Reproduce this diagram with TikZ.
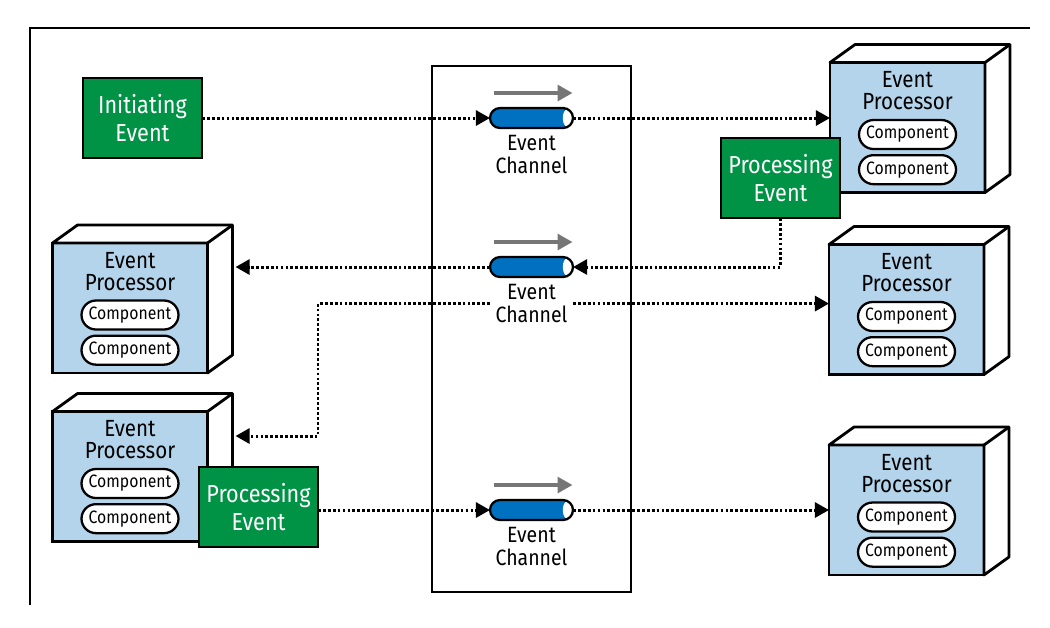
\documentclass[tikz,border=0pt]{standalone}
\usepackage{fontspec}
\setmainfont{Fira Sans}[FakeStretch=0.88]
\usetikzlibrary{shapes.misc, positioning}
\usetikzlibrary{arrows.meta}
\tikzset{>={Triangle[width=8.5pt,length=8pt]}}
\definecolor{eventgreen}{RGB}{0,146,69}
\definecolor{procblue}{RGB}{179,212,234}
\definecolor{chanblue}{RGB}{0,112,192}
\definecolor{chanarrow}{RGB}{118,118,118}

\begin{document}
\begin{tikzpicture}[x=0.02cm, y=-0.02cm, event/.style={rectangle, draw=black, fill=eventgreen, line width=1.4pt, minimum width=2.38cm, minimum height=1.6cm, text=white, font=\fontsize{14}{15.5}\selectfont, align=center, inner sep=0pt, outer sep=0pt}, processor/.style={rectangle, draw=black, fill=procblue, line width=1.6pt, minimum width=3.1cm, minimum height=2.6cm, outer sep=0pt}, face/.style={draw=black, fill=white, line width=1.6pt, line join=round}, title/.style={font=\fontsize{13.3}{12.5}\selectfont, align=center, inner sep=0pt}, component/.style={rounded rectangle, draw=black, fill=white, line width=1.3pt, minimum width=1.94cm, minimum height=0.58cm, inner sep=0pt, outer sep=0pt, font=\fontsize{10.2}{10}\selectfont}, channel/.style={rounded rectangle, draw=black, fill=chanblue, line width=1.3pt, minimum width=1.66cm, minimum height=0.4cm, inner sep=0pt, outer sep=0pt, path picture={\fill[white] ([xshift=-3.2pt]path picture bounding box.east) ellipse [x radius=2.6pt, y radius=5pt];}}, chantext/.style={font=\fontsize{12.6}{13}\selectfont, align=center, inner sep=0pt}, flow/.style={->, line width=1.7pt, dash pattern=on 1.6pt off 1.2pt}, bus/.style={rectangle, draw=black, line width=1.1pt, minimum width=3.98cm, minimum height=10.52cm}]
    \useasboundingbox (0,0) rectangle (1050,627);
    
    %Frame
    \draw[line width=0.6pt] (30,605) -- (30,28) -- (1030,28);
    \node[bus](bus) at (531.5,329){};
    
    %Processors
    \node[processor](ep1) at (907.5,127.5){};
    \node[processor](ep2) at (906.5,309.5){};
    \node[processor](ep3) at (906.5,510){};
    \node[processor](ep4) at (130,308){};
    \node[processor](ep5) at (130,476.5){};
    \foreach \p in {ep1,ep2,ep3,ep4,ep5}{
        \draw[face] (\p.north west) -- ++(25,-18) -| ([shift={(25,-18)}]\p.south east) -- (\p.south east) -- (\p.north east) -- cycle;
        \draw[face] (\p.north east) -- ++(25,-18);
        \node[title](\p title)[below=5pt of \p.north]{Event\\Processor};
        \node[component](\p compa)[below=5.5pt of \p title]{Component};
        \node[component](\p compb)[below=3.5pt of \p compa]{Component};
    }
    \coordinate (ep4side) at ([shift={(28,-41)}]ep4.east);
    \coordinate (ep5side) at ([shift={(28,-40.5)}]ep5.east);
    
    %Events
    \node[event](initiating) at (142.5,118){Initiating\\Event};
    \node[event](pe1) at (780.5,178){Processing\\Event};
    \node[event](pe2) at (258.5,507){Processing\\Event};
    
    %Channels
    \node[channel](ch1) at (531.5,118){};
    \node[channel](ch2) at (531.5,267){};
    \node[channel](ch3) at (531.5,510){};
    \foreach \c in {ch1,ch2,ch3}{
        \draw[chanarrow, line width=2pt, -{Triangle[width=9pt,length=8.5pt]}] ([shift={(-38,-25)}]\c.center) -- ([shift={(41,-25)}]\c.center);
        \node[chantext](\c text)[below=4pt of \c]{Event\\Channel};
    }
    
    %Lines
    \draw[flow] (initiating.east) -- (ch1.west);
    \draw[flow] (ch1.east) -- (ch1.east -| ep1.west);
    \draw[flow] (pe1.south) |- (ch2.east);
    \draw[flow] (ch2.west) -- (ch2.west -| ep4side);
    \draw[flow] (ch2.east |- ch2text) -- (ch2text -| ep2.west);
    \draw[flow] (ch2.west |- ch2text) -| (pe2.east |- ep5side) -- (ep5side);
    \draw[flow] (pe2.east |- ch3.west) -- (ch3.west);
    \draw[flow] (ch3.east) -- (ch3.east -| ep3.west);
    
\end{tikzpicture}
\end{document}
